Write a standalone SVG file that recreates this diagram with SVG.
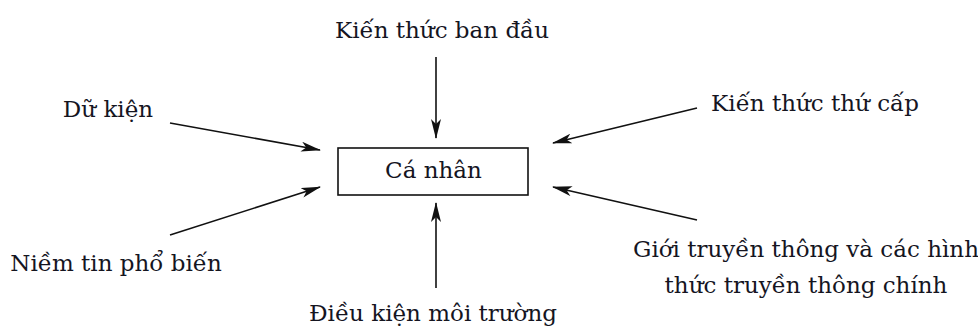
<svg xmlns="http://www.w3.org/2000/svg" width="978" height="326" viewBox="0 0 978 326">
<defs>
<style>
text{font-family:"DejaVu Serif","Liberation Serif",serif;font-size:23px;fill:#15151f}
.c{stroke:#111;stroke-width:1.6;fill:none;marker-end:url(#ah)}
</style>
<marker id="ah" viewBox="0 0 20 10" refX="19" refY="5" markerWidth="20" markerHeight="10" markerUnits="userSpaceOnUse" orient="auto">
<path d="M0,0 L20,5 L0,10 L5,5 Z" fill="#111"/>
</marker>
</defs>
<rect width="978" height="326" fill="#fff"/>
<g id="connectors">
<line class="c" x1="436" y1="57" x2="436" y2="138"/>
<line class="c" x1="170" y1="123" x2="320" y2="150"/>
<line class="c" x1="170" y1="235" x2="320" y2="187"/>
<line class="c" x1="697" y1="108" x2="553" y2="143"/>
<line class="c" x1="697" y1="220" x2="553" y2="187"/>
<line class="c" x1="436" y1="288" x2="436" y2="203"/>
</g>
<g id="ca-nhan">
<rect x="338" y="148" width="190" height="47" fill="#fff" stroke="#111" stroke-width="1.6"/>
<text x="433.5" y="178" text-anchor="middle">Cá nhân</text>
</g>
<g id="kien-thuc-ban-dau"><text x="442" y="38" text-anchor="middle">Kiến thức ban đầu</text></g>
<g id="du-kien"><text x="108" y="117" text-anchor="middle">Dữ kiện</text></g>
<g id="niem-tin"><text x="116" y="271" text-anchor="middle">Niềm tin phổ biến</text></g>
<g id="kien-thuc-thu-cap"><text x="815" y="111" text-anchor="middle">Kiến thức thứ cấp</text></g>
<g id="gioi-truyen-thong"><text x="806" y="257" text-anchor="middle">Giới truyền thông và các hình</text><text x="806" y="293" text-anchor="middle">thức truyền thông chính</text></g>
<g id="dieu-kien"><text x="433" y="321" text-anchor="middle">Điều kiện môi trường</text></g>
</svg>
